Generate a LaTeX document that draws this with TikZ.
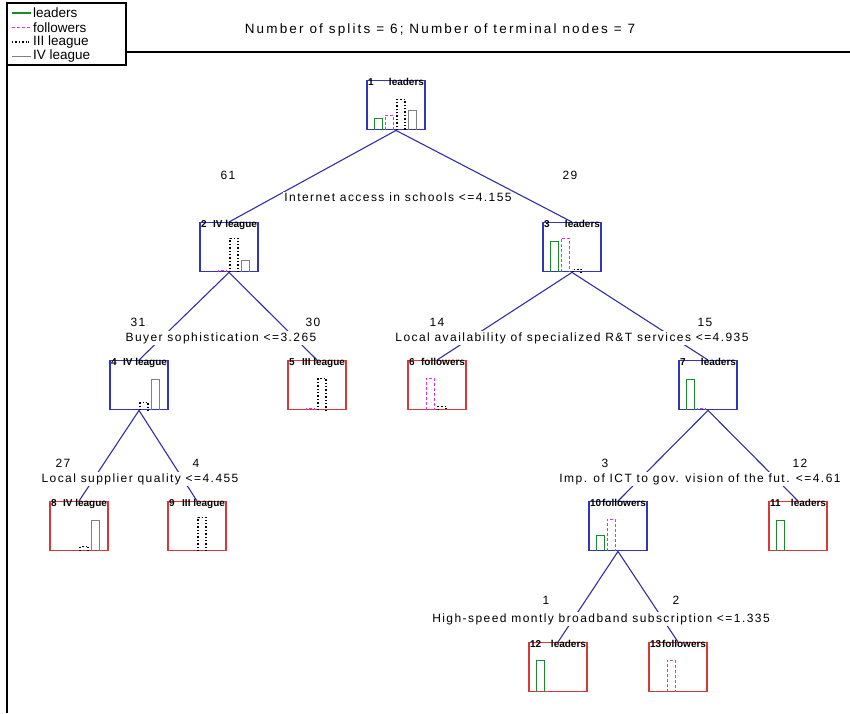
\documentclass[tikz,border=0pt]{standalone}
\usepackage{fontspec}
\setmainfont{Liberation Sans}
\newfontfamily\splitfont[LetterSpace=12]{Liberation Sans}
\newfontfamily\titlefont[LetterSpace=16]{Liberation Sans}
\definecolor{treeline}{HTML}{3030A8}
\definecolor{innerc}{HTML}{3434B8}
\definecolor{termc}{HTML}{D83838}
\definecolor{ldr}{HTML}{1E8A30}
\definecolor{flw}{HTML}{E030E0}
\definecolor{lgr}{HTML}{808080}
\tikzset{
  treebox/.style={draw, rectangle, minimum width=58pt, minimum height=49pt, inner sep=0pt, anchor=north, line width=1.4pt},
  inner/.style={treebox, draw=innerc},
  term/.style={treebox, draw=termc},
  conn/.style={draw=treeline, line width=1.1pt},
  splitlab/.style={fill=white, inner sep=1pt, font=\splitfont\fontsize{12}{14}\selectfont},
  countlab/.style={inner sep=0pt, font=\splitfont\fontsize{12}{14}\selectfont},
  numlab/.style={inner sep=0pt, anchor=north west, font=\bfseries\fontsize{10}{11}\selectfont},
  clslab/.style={inner sep=0pt, anchor=north east, font=\bfseries\fontsize{10}{11}\selectfont},
  barG/.style={draw=ldr, line width=1.5pt},
  barM/.style={draw=flw, line width=1.5pt, dash pattern=on 3pt off 2pt},
  barK/.style={draw=black, line width=1.7pt, dash pattern=on 1.4pt off 2pt},
  barY/.style={draw=lgr, line width=1.4pt},
}
% #1 node, #2 green, #3 magenta, #4 black, #5 gray heights (px)
\newcommand\histbars[5]{%
  \begin{scope}[shift={(#1.south west)}]
    \ifdim #2pt>0pt \draw[barG] (8,0) -- (8,-#2) -- (16,-#2) -- (16,0); \fi
    \ifdim #3pt>0pt \draw[barM] (19,0) -- (19,-#3) -- (27,-#3) -- (27,0); \fi
    \ifdim #4pt>0pt \draw[barK] (31,0) -- (31,-#4) -- (39,-#4) -- (39,0); \fi
    \ifdim #5pt>0pt \draw[barY] (42,0) -- (42,-#5) -- (50,-#5) -- (50,0); \fi
  \end{scope}}
\newcommand\boxlabels[3]{%
  \node[numlab] at ([shift={(1.5,-2)}]#1.north west) {#2};
  \node[clslab] at ([shift={(-1.5,-2)}]#1.north east) {#3};}
\begin{document}
\begin{tikzpicture}[x=1pt,y=-1pt]
\useasboundingbox[fill=white] (0,0) rectangle (850,713);
% frame and legend
\draw[line width=2pt] (7,3) -- (7,713);
\draw[line width=1.5pt] (126,52) -- (850,52);
\draw[line width=1.3pt] (7,3) rectangle (126,65);
\begin{scope}[font=\fontsize{13.5}{15}\selectfont]
  \draw[barG] (12,13) -- (31,13); \node[anchor=west, inner sep=0pt] (lg1) at (33,13) {leaders};
  \draw[barM] (12,27.5) -- (31,27.5); \node[anchor=west, inner sep=0pt] (lg2) at (33,27.5) {followers};
  \draw[barK] (12,42) -- (27,42) (28,42) -- (31,42); \node[anchor=west, inner sep=0pt] (lg3) at (33,42) {III league};
  \draw[barY] (12,56.5) -- (31,56.5); \node[anchor=west, inner sep=0pt] (lg4) at (33,56.5) {IV league};
\end{scope}
\node[inner sep=0pt, font=\titlefont\fontsize{13.5}{15}\selectfont] (title) at (440,30) {Number of splits = 6; Number of terminal nodes = 7};
% nodes
\node[inner] (n1) at (396,80) {};
\node[inner] (n2) at (229,222) {};
\node[inner] (n3) at (572,222) {};
\node[inner] (n4) at (139,360) {};
\node[term]  (n5) at (317,360) {};
\node[term]  (n6) at (437,360) {};
\node[inner] (n7) at (708,360) {};
\node[term]  (n8) at (79,501) {};
\node[term]  (n9) at (197,501) {};
\node[inner] (n10) at (618,501) {};
\node[term]  (n11) at (798,501) {};
\node[term]  (n12) at (558,642) {};
\node[term]  (n13) at (678,642) {};
% connectors
\draw[conn] (n1.south) -- (n2.north);
\draw[conn] (n1.south) -- (n3.north);
\draw[conn] (n2.south) -- (n4.north);
\draw[conn] (n2.south) -- (n5.north);
\draw[conn] (n3.south) -- (n6.north);
\draw[conn] (n3.south) -- (n7.north);
\draw[conn] (n4.south) -- (n8.north);
\draw[conn] (n4.south) -- (n9.north);
\draw[conn] (n7.south) -- (n10.north);
\draw[conn] (n7.south) -- (n11.north);
\draw[conn] (n10.south) -- (n12.north);
\draw[conn] (n10.south) -- (n13.north);
% split labels
\node[splitlab] (s1) at (398,197) {Internet access in schools <=4.155};
\node[splitlab] (s2) at (221,338) {Buyer sophistication <=3.265};
\node[splitlab] (s3) at (572,338) {Local availability of specialized R\&T services <=4.935};
\node[splitlab] (s4) at (140,479) {Local supplier quality <=4.455};
\node[splitlab] (s7) at (700,479) {Imp. of ICT to gov. vision of the fut. <=4.61};
\node[splitlab] (s10) at (601,619) {High-speed montly broadband subscription <=1.335};
% counts
\node[countlab] (c2) at (228,175) {61};
\node[countlab] (c3) at (570,175) {29};
\node[countlab] (c4) at (138,322) {31};
\node[countlab] (c5) at (313,322) {30};
\node[countlab] (c6) at (437,322) {14};
\node[countlab] (c7) at (705,322) {15};
\node[countlab] (c8) at (63,463) {27};
\node[countlab] (c9) at (196,463) {4};
\node[countlab] (c10) at (605,463) {3};
\node[countlab] (c11) at (800,463) {12};
\node[countlab] (c12) at (546,600) {1};
\node[countlab] (c13) at (676,600) {2};
% box labels
\boxlabels{n1}{1}{leaders}
\boxlabels{n2}{2}{IV league}
\boxlabels{n3}{3}{leaders}
\boxlabels{n4}{4}{IV league}
\boxlabels{n5}{5}{III league}
\boxlabels{n6}{6}{followers}
\boxlabels{n7}{7}{leaders}
\boxlabels{n8}{8}{IV league}
\boxlabels{n9}{9}{III league}
\boxlabels{n10}{10}{followers}
\boxlabels{n11}{11}{leaders}
\boxlabels{n12}{12}{leaders}
\boxlabels{n13}{13}{followers}
% histograms
\histbars{n1}{12}{15}{31}{20}
\histbars{n2}{0}{2}{34}{12}
\histbars{n3}{31}{34}{3}{0}
\histbars{n4}{0}{0}{8}{31}
\histbars{n5}{0}{2}{32}{0}
\histbars{n6}{0}{32}{4}{0}
\histbars{n7}{31}{2}{0}{0}
\histbars{n8}{0}{0}{5}{31}
\histbars{n9}{0}{0}{34}{0}
\histbars{n10}{16}{32}{0}{0}
\histbars{n11}{31}{0}{0}{0}
\histbars{n12}{32}{0}{0}{0}
\histbars{n13}{0}{32}{0}{0}
\end{tikzpicture}
\end{document}
